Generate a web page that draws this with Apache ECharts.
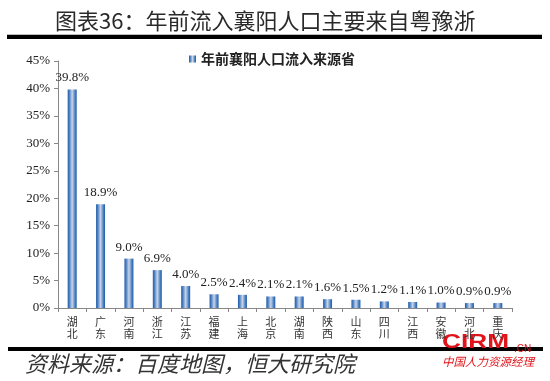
<!DOCTYPE html>
<html><head><meta charset="utf-8">
<script src="https://cdn.jsdelivr.net/npm/echarts@6/dist/echarts.min.js"></script>
<style>html,body{margin:0;padding:0;background:#fff}#c{width:550px;height:381px}</style>
</head><body><div id="c"></div>
<script>
const categories = ['湖北','广东','河南','浙江','江苏','福建','上海','北京','湖南','陕西','山东','四川','江西','安徽','河北','重庆'];
const values = [39.8, 18.9, 9.0, 6.9, 4.0, 2.5, 2.4, 2.1, 2.1, 1.6, 1.5, 1.2, 1.1, 1.0, 0.9, 0.9];
const seriesName = '年前襄阳人口流入来源省';
const titleText = '图表36：年前流入襄阳人口主要来自粤豫浙';
const sourceText = '资料来源：百度地图，恒大研究院';
const yMin = 0, yMax = 45, yInterval = 5;

const chart = echarts.init(document.getElementById('c'), null, {renderer:'canvas'});
const barColor = new echarts.graphic.LinearGradient(0,0,1,0,[
  {offset:0,color:'#1f5aa8'},{offset:0.18,color:'#4a7fc2'},{offset:0.5,color:'#c9d5e8'},
  {offset:0.82,color:'#4a7fc2'},{offset:1,color:'#1f5aa8'}]);
chart.setOption({
  animation:false,
  legend:{top:47,left:184,itemWidth:7,itemHeight:7,icon:'rect',itemGap:4,
    textStyle:{fontFamily:'Noto Sans CJK SC',fontWeight:'bold',fontSize:14,color:'#222'},
    data:[seriesName]},
  grid:{left:58,right:38,top:61,bottom:73},
  xAxis:{type:'category',data:categories,
    axisLine:{lineStyle:{color:'#888'}},
    axisTick:{show:true,length:4,alignWithLabel:false,lineStyle:{color:'#888'}},
    axisLabel:{interval:0,margin:8,lineHeight:12,fontSize:11,color:'#333',fontFamily:'Noto Sans CJK SC',
      formatter:v=>v.split('').join('\n')}},
  yAxis:{type:'value',min:yMin,max:yMax,interval:yInterval,
    splitLine:{show:false},
    axisLine:{show:true,lineStyle:{color:'#888'}},
    axisTick:{show:true,length:4,lineStyle:{color:'#888'}},
    axisLabel:{formatter:'{value}%',fontSize:13,color:'#222',fontFamily:'Liberation Serif',margin:8}},
  series:[{name:seriesName,type:'bar',data:values,barWidth:9,
    itemStyle:{color:barColor},
    label:{show:true,position:'top',distance:5,fontSize:13,color:'#222',fontFamily:'Liberation Serif',
      formatter:p=>p.value.toFixed(1)+'%'}}],
  graphic:[
    {type:'text',left:55,top:10,style:{text:titleText,fontSize:22,fontFamily:'Noto Sans CJK SC',fill:'#2a2a2a'}},
    {type:'rect',shape:{x:7,y:34,width:535,height:1},style:{fill:'#bbb'}},
    {type:'rect',shape:{x:7,y:35,width:535,height:4},style:{fill:'#000'}},
    {type:'rect',shape:{x:8,y:347,width:535,height:4},style:{fill:'#000'}},
    {type:'text',left:25,top:353,style:{text:sourceText,fontSize:22,fontStyle:'italic',fontFamily:'Noto Sans CJK SC',fill:'#333'}},
    {type:'text',x:442,y:332,scaleX:1.25,style:{text:'CIRM',fontSize:21,fontWeight:'bold',fontFamily:'Liberation Sans',fill:'#e0141a'}},
    {type:'text',left:514,top:344,style:{text:'.CN',fontSize:10,fontFamily:'Liberation Sans',fill:'#e0141a'}},
    {type:'text',left:442,top:356,style:{text:'中国人力资源经理',fontSize:11.5,fontStyle:'italic',fontFamily:'Noto Sans CJK SC',fill:'#e0141a'}}
  ]
});
</script></body></html>
